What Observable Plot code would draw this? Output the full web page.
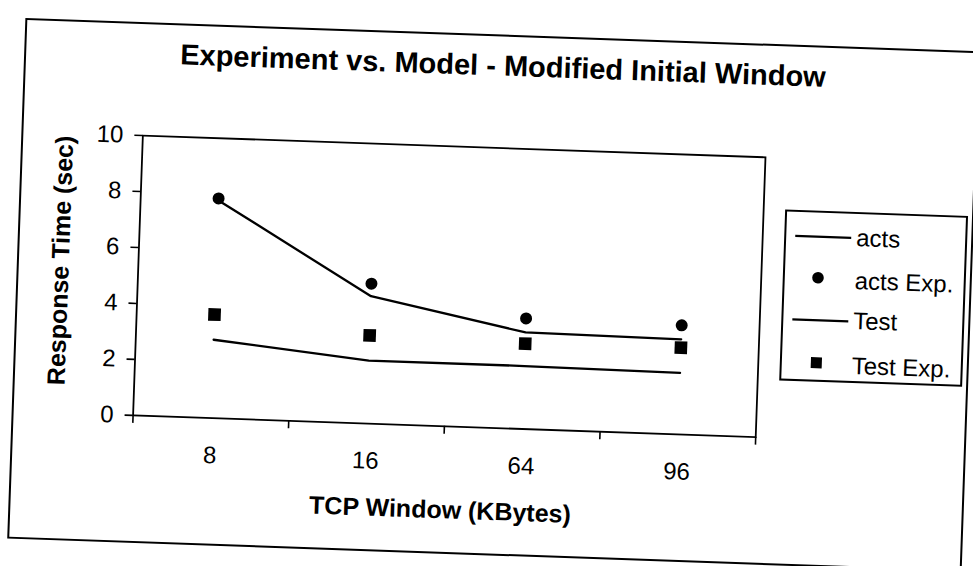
<!DOCTYPE html>
<html>
<head>
<meta charset="utf-8">
<script src="https://cdn.jsdelivr.net/npm/d3@7"></script>
<script src="https://cdn.jsdelivr.net/npm/@observablehq/plot@0.6"></script>
<style>
  html, body { margin: 0; padding: 0; background: #fff; overflow: hidden; }
  body { width: 973px; height: 566px; position: relative; font-family: "Liberation Sans", Arial, sans-serif; color: #000; }
  #page { position: absolute; left: 0; top: 0; width: 973px; height: 566px; transform-origin: 0 0; transform: rotate(2deg); }
  #outer { position: absolute; left: 26px; top: 17px; width: 955px; height: 521px; border: 2px solid #000; box-sizing: border-box; }
  #title { position: absolute; left: 0; top: 34px; width: 1010px; text-align: center; font-size: 29px; line-height: 29px; font-weight: bold; white-space: nowrap; }
  #chart { position: absolute; left: 0; top: 0; }
  #legend { position: absolute; left: 792px; top: 182px; width: 183px; height: 171px; border: 2px solid #000; box-sizing: border-box; background: #fff; }
  .lg-text { position: absolute; left: 70px; font-size: 24px; line-height: 24px; white-space: nowrap; }
  .lg-sw { position: absolute; left: 0; top: 0; }
</style>
</head>
<body>
<div id="page">
  <div id="outer"></div>
  <div id="title">Experiment vs. Model - Modified Initial Window</div>
  <div id="chart"></div>
  <div id="legend"></div>
</div>
<script>
// ---- data ----
const categories = ["8", "16", "64", "96"];
const acts      = [7.78, 4.55, 3.45, 3.4];
const actsExp   = [7.85, 5.0, 3.95, 3.9];
const test      = [2.8, 2.25, 2.25, 2.2];
const testExp   = [3.7, 3.15, 3.05, 3.1];
const yTicks    = [0, 2, 4, 6, 8, 10];
const legendLabels = ["acts", "acts Exp.", "Test", "Test Exp."];
const xTitle = "TCP Window (KBytes)";
const yTitle = "Response Time (sec)";

const toRows = vals => vals.map((v, i) => ({i: i + 0.5, cat: categories[i], v}));
const bounds = d3.range(categories.length + 1);
const centers = categories.map((_, i) => i + 0.5);

const font = "'Liberation Sans', Arial, sans-serif";

const chart = Plot.plot({
  width: 973,
  height: 566,
  marginLeft: 147,
  marginRight: 203,
  marginTop: 130,
  marginBottom: 156,
  x: {domain: [0, categories.length], axis: null},
  y: {domain: [0, 10], axis: null},
  style: {fontFamily: font, fontSize: "24px", color: "#000", background: "transparent", overflow: "visible"},
  marks: [
    Plot.frame({stroke: "#000", strokeWidth: 1.8}),
    Plot.axisY({ticks: yTicks, tickSize: 8, tickPadding: 11.5, fontSize: 24, label: null, strokeWidth: 1.6}),
    Plot.axisX({ticks: bounds, tickSize: 8, tickFormat: () => "", label: null, strokeWidth: 1.6}),
    Plot.axisX({ticks: centers, tickSize: 0, tickPadding: 28, fontSize: 24, label: null,
                tickFormat: d => categories[Math.floor(d)]}),
    Plot.line(toRows(acts), {x: "i", y: "v", stroke: "#000", strokeWidth: 2.3}),
    Plot.line(toRows(test), {x: "i", y: "v", stroke: "#000", strokeWidth: 2.3}),
    Plot.dot(toRows(actsExp), {x: "i", y: "v", r: 6, fill: "#000", symbol: "circle"}),
    Plot.dot(toRows(testExp), {x: "i", y: "v", r: 7.1, fill: "#000", symbol: "square"}),
    Plot.text([yTitle], {frameAnchor: "left", dx: -77.6, dy: -12.4, rotate: -90,
                         fontSize: 25, fontWeight: "bold", textAnchor: "middle", lineAnchor: "middle"}),
    Plot.text([xTitle], {frameAnchor: "bottom", dx: -1.5, dy: 84,
                         fontSize: 25, fontWeight: "bold", textAnchor: "middle", lineAnchor: "middle"})
  ]
});
document.getElementById("chart").appendChild(chart);

// ---- legend ----
const legend = d3.select("#legend");
const textTops = [11.9, 54.6, 95.2, 140.2];
const kinds = ["line", "circle", "line", "square"];
const swY = [24, 65.1, 107.5, 150.1];
const sw = legend.append("svg").attr("class", "lg-sw").attr("width", 179).attr("height", 167);
legendLabels.forEach((lab, k) => {
  legend.append("div").attr("class", "lg-text").style("top", textTops[k] + "px").text(lab);
  if (kinds[k] === "line") {
    sw.append("line").attr("x1", 9).attr("x2", 65).attr("y1", swY[k]).attr("y2", swY[k])
      .attr("stroke", "#000").attr("stroke-width", 2.3);
  } else if (kinds[k] === "circle") {
    sw.append("circle").attr("cx", 33.2).attr("cy", swY[k]).attr("r", 5.8).attr("fill", "#000");
  } else {
    sw.append("rect").attr("x", 34.5 - 5.5).attr("y", swY[k] - 5.5).attr("width", 11).attr("height", 11).attr("fill", "#000");
  }
});
</script>
</body>
</html>
